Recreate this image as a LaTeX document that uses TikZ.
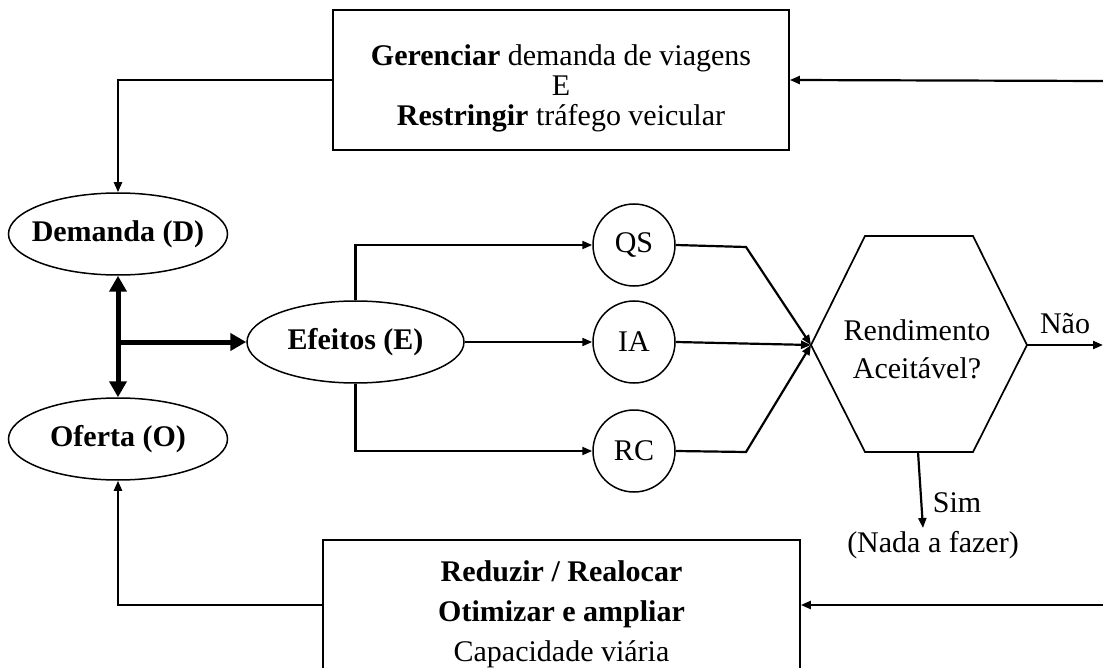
\documentclass[tikz,border=0pt]{standalone}
\usepackage{fontspec}
\setmainfont{Liberation Serif}
\usetikzlibrary{arrows.meta,shapes.geometric}
\begin{document}
\begin{tikzpicture}[x=1pt,y=-1pt,
  every node/.style={font=\fontsize{30pt}{30pt}\selectfont, inner sep=0pt},
  ell/.style={ellipse,draw,line width=1.5pt,minimum width=219pt,minimum height=82pt,
    font=\fontsize{30pt}{30pt}\selectfont\bfseries},
  circ/.style={circle,draw,line width=1.5pt,minimum size=82pt},
  framebox/.style={draw,line width=1.7pt},
  conn/.style={line width=2.2pt,-{Triangle[length=10pt,width=8pt]}},
  heavy/.style={line width=5pt,-{Triangle[length=16pt,width=17pt]}},
  heavyboth/.style={line width=5pt,{Triangle[length=16pt,width=17pt]}-{Triangle[length=16pt,width=17pt]}}
]
\useasboundingbox (0,0) rectangle (1103,668);
\clip (0,0) rectangle (1103,668);

% action boxes
\node[framebox,minimum width=456pt,minimum height=140pt] (top) at (561,80) {};
\node[align=center] (toptxt) at (561,88)
  {{\bfseries Gerenciar} demanda de viagens\\ E\\ {\bfseries Restringir} tr\'afego veicular};
\node[framebox,minimum width=477pt,minimum height=160pt] (bot) at (561.5,620) {};
\node[align=center,font=\fontsize{30pt}{40pt}\selectfont] (bottxt) at (561.5,614)
  {{\bfseries Reduzir / Realocar}\\{\bfseries Otimizar e ampliar}\\Capacidade vi\'aria};

% demand, supply and effects (text kept out of the ellipse size)
\node[ell] (dem) at (118,234) {\makebox[0pt][c]{Demanda (D)}};
\node[ell] (ofe) at (118,439) {\makebox[0pt][c]{Oferta (O)}};
\node[ell,minimum width=217pt] (efe) at (355.5,342) {\makebox[0pt][c]{Efeitos (E)}};

\node[circ] (qs) at (634,245) {QS};
\node[circ] (ia) at (634,342) {IA};
\node[circ] (rc) at (634,451) {RC};

% decision hexagon
\coordinate (hTL) at (865,236);
\coordinate (hTR) at (973,236);
\coordinate (hR)  at (1027,345);
\coordinate (hBR) at (973,452);
\coordinate (hBL) at (865,452);
\coordinate (hL)  at (811,345);
\coordinate (hB)  at (918,452);
\draw[line width=1.7pt,line join=miter] (hTL) -- (hTR) -- (hR) -- (hBR) -- (hBL) -- (hL) -- cycle;
\node[align=center,font=\fontsize{30pt}{38pt}\selectfont] (hextxt) at (917,349) {Rendimento\\Aceit\'avel?};

% feedback ends at the right border
\coordinate (rt) at (1103,81);
\coordinate (rb) at (1103,605);
\coordinate (naoEnd) at (1103,345);
\coordinate (simEnd) at (923,528);
\coordinate (qsb) at (746,247);
\coordinate (rcb) at (746,452);

% connectors
\draw[conn] (rt) -- (top.east);
\draw[conn] (top.west) -| (dem.north);
\draw[conn] (rb) -- (rb -| bot.east);
\draw[conn] (bot.west |- rb) -| (ofe.south);

\draw[heavyboth] (dem.south) -- (ofe.north);
\draw[heavy] (dem.south |- efe.west) -- (efe.west);

\draw[conn] (efe.north) |- (qs.west);
\draw[conn] (efe.east) -- (ia.west);
\draw[conn] (efe.south) |- (rc.west);

\draw[conn] (qs.east) -- (qsb) -- (hL);
\draw[conn] (ia.east) -- (hL);
\draw[conn] (rc.east) -- (rcb) -- (hL);

\draw[conn] (hR) -- (naoEnd);
\node (naotxt) at (1065,324) {N\~ao};
\draw[conn] (hB) -- (simEnd);
\node (simtxt) at (957,503) {Sim};
\node (nadatxt) at (933,545) {(Nada a fazer)};
\end{tikzpicture}
\end{document}
